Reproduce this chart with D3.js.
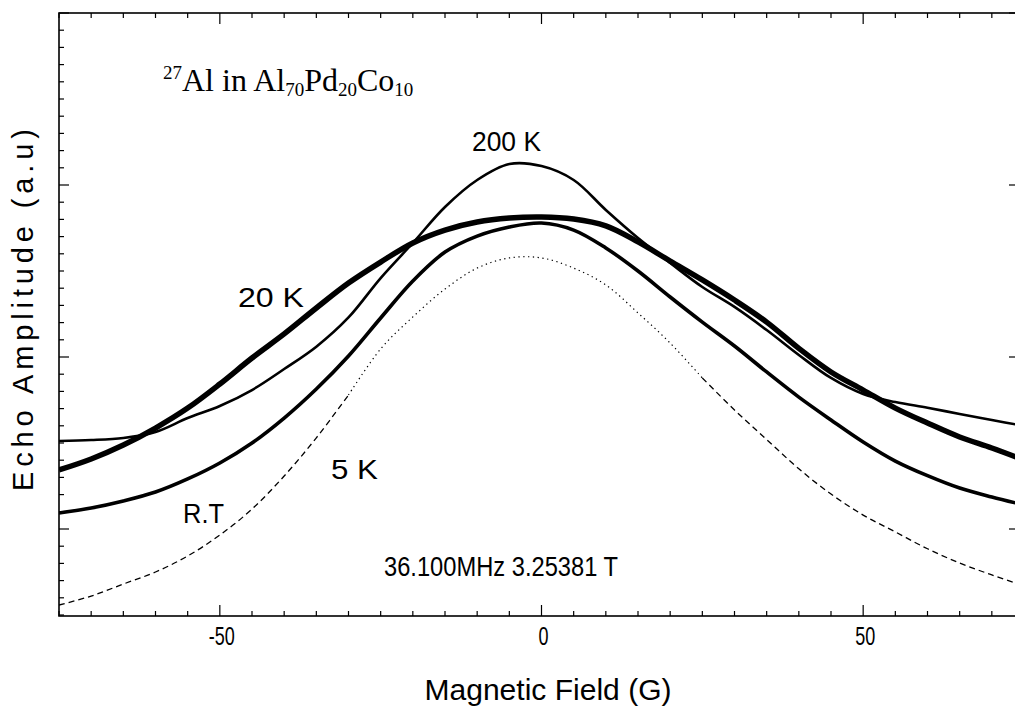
<!DOCTYPE html>
<html><head><meta charset="utf-8">
<script src="https://cdn.jsdelivr.net/npm/d3@7"></script>
<style>body{margin:0;background:#fff} svg{display:block}</style>
</head><body><svg id="c" width="1015" height="715"></svg>
<script>
// ---- data ----
const fieldG = [-75,-70,-65,-60,-55,-50,-45,-40,-35,-30,-25,-20,-15,-10,-5,0,5,10,15,20,25,30,35,40,45,50,55,60,65,70,75];
const amp200K = [10.12,10.17,10.29,10.64,11.45,12.15,13.08,14.30,15.60,17.30,19.59,21.63,23.72,25.29,26.22,26.10,25.29,23.55,21.92,20.47,19.07,17.91,16.57,15.12,13.78,12.85,12.38,12.05,11.69,11.34,10.99];
const amp20K  = [8.43,9.07,9.88,10.87,12.03,13.43,14.94,16.34,17.85,19.30,20.52,21.63,22.38,22.85,23.08,23.14,23.02,22.62,21.69,20.58,19.48,18.31,17.03,15.50,14.13,13.08,12.03,11.16,10.35,9.71,9.01];
const ampRT   = [5.93,6.22,6.63,7.15,7.91,8.84,10.00,11.45,13.14,15.06,17.27,19.42,21.10,22.03,22.56,22.79,22.38,21.34,20.00,18.49,17.03,15.64,14.13,12.67,11.34,10.06,8.95,8.10,7.38,6.86,6.40];
const amp5K   = [0.58,1.10,1.80,2.50,3.43,4.65,6.16,8.08,10.30,12.79,15.47,17.33,18.95,20.17,20.76,20.76,20.17,19.19,17.56,15.81,13.78,11.92,10.20,8.50,7.03,5.81,4.83,3.85,3.02,2.33,1.69];
const xTickValues = [-50,0,50];
const xTickLabels = ["-50","0","50"];
const seriesLabels = ["200 K","20 K","5 K","R.T"];
const infoText = "36.100MHz 3.25381 T";
const xTitle = "Magnetic Field (G)";
const yTitle = "Echo Amplitude (a.u)";

// ---- layout ----
const svg = d3.select("#c");
const L = 59, T = 13, B = 616, R = 1024;
const x = d3.scaleLinear().domain([-75,75]).range([L,R]);
const y = d3.scaleLinear().domain([0,35]).range([B-1,T]);

const g = svg.append("g");
g.append("rect").attr("x",L).attr("y",T).attr("width",R-L).attr("height",B-T)
 .attr("fill","none").attr("stroke","#000").attr("stroke-width",1.6);

const xMinor = d3.range(-75,76,5);
const isXMajor = v => xTickValues.includes(v);
g.selectAll(".xb").data(xMinor).join("line")
 .attr("x1",d=>x(d)).attr("x2",d=>x(d))
 .attr("y1",B).attr("y2",d=>B-(isXMajor(d)?11:5))
 .attr("stroke","#000").attr("stroke-width",1.2);
g.selectAll(".xt").data(xMinor).join("line")
 .attr("x1",d=>x(d)).attr("x2",d=>x(d))
 .attr("y1",T).attr("y2",d=>T+(isXMajor(d)?11:5))
 .attr("stroke","#000").attr("stroke-width",1.2);
const yMinor = d3.range(0,36,1);
const isYMajor = v => v%10===5;
g.selectAll(".yl").data(yMinor).join("line")
 .attr("y1",d=>y(d)).attr("y2",d=>y(d))
 .attr("x1",L).attr("x2",d=>L+(isYMajor(d)?10:5))
 .attr("stroke","#000").attr("stroke-width",1.2);
g.selectAll(".yr").data(yMinor).join("line")
 .attr("y1",d=>y(d)).attr("y2",d=>y(d))
 .attr("x1",R).attr("x2",d=>R-(isYMajor(d)?15:5))
 .attr("stroke","#000").attr("stroke-width",1.2);

g.selectAll(".xl").data(xTickValues).join("text")
 .attr("x",d=>x(d)+2).attr("y",645).attr("text-anchor","middle")
 .attr("font-family","'Liberation Sans',Arial,sans-serif")
 .attr("font-size",26.5)
 .attr("transform",d=>`translate(${x(d)+2},0) scale(0.68,1) translate(${-(x(d)+2)},0)`)
 .text((d,i)=>xTickLabels[i]);

svg.append("text").attr("x",548).attr("y",700).attr("text-anchor","middle")
 .attr("font-family","'Liberation Sans',Arial,sans-serif").attr("font-size",29)
 .attr("textLength",247).attr("lengthAdjust","spacingAndGlyphs").text(xTitle);
svg.append("text").attr("transform","translate(33,310) rotate(-90)").attr("text-anchor","middle")
 .attr("font-family","'Liberation Sans',Arial,sans-serif").attr("font-size",29)
 .attr("textLength",362).attr("lengthAdjust","spacing").text(yTitle);

const pts = arr => fieldG.map((f,i)=>[f,arr[i]]);
const line = d3.line().x(d=>x(d[0])).y(d=>y(d[1])).curve(d3.curveCatmullRom.alpha(0.5));
svg.append("clipPath").attr("id","cp").append("rect")
 .attr("x",L).attr("y",T).attr("width",R-L).attr("height",B-T);
const cg = svg.append("g").attr("clip-path","url(#cp)");

const p5 = pts(amp5K);
cg.append("path").attr("d",line(p5.filter(d=>d[0]<=-30))).attr("fill","none")
 .attr("stroke","#000").attr("stroke-width",1.3).attr("stroke-dasharray","6,4");
cg.append("path").attr("d",line(p5.filter(d=>d[0]>=-30 && d[0]<=25))).attr("fill","none")
 .attr("stroke","#000").attr("stroke-width",1.2).attr("stroke-dasharray","1.3,3.5");
cg.append("path").attr("d",line(p5.filter(d=>d[0]>=25))).attr("fill","none")
 .attr("stroke","#000").attr("stroke-width",1.3).attr("stroke-dasharray","6,4");

cg.append("path").attr("d",line(pts(ampRT))).attr("fill","none")
 .attr("stroke","#000").attr("stroke-width",3.6);
cg.append("path").attr("d",line(pts(amp200K))).attr("fill","none")
 .attr("stroke","#000").attr("stroke-width",2.6);
cg.append("path").attr("d",line(pts(amp20K))).attr("fill","none")
 .attr("stroke","#000").attr("stroke-width",5.5);

const lab = (t,xx,yy,w)=>svg.append("text").attr("x",xx).attr("y",yy)
 .attr("font-family","'Liberation Sans',Arial,sans-serif").attr("font-size",27)
 .attr("textLength",w).attr("lengthAdjust","spacingAndGlyphs").text(t);
lab(seriesLabels[0],472,151,69);
lab(seriesLabels[1],238,307,66);
lab(seriesLabels[2],331,479,47);
lab(seriesLabels[3],183,523,41);
lab(infoText,384,576,234);

const tt = svg.append("text").attr("x",163).attr("y",91)
 .attr("font-family","'Liberation Serif','Times New Roman',serif").attr("font-size",32);
tt.append("tspan").attr("font-size",19).attr("dy",-12).text("27");
tt.append("tspan").attr("dy",12).text("Al in Al");
tt.append("tspan").attr("font-size",19).attr("dy",5).text("70");
tt.append("tspan").attr("dy",-5).text("Pd");
tt.append("tspan").attr("font-size",19).attr("dy",5).text("20");
tt.append("tspan").attr("dy",-5).text("Co");
tt.append("tspan").attr("font-size",19).attr("dy",5).text("10");
</script></body></html>
